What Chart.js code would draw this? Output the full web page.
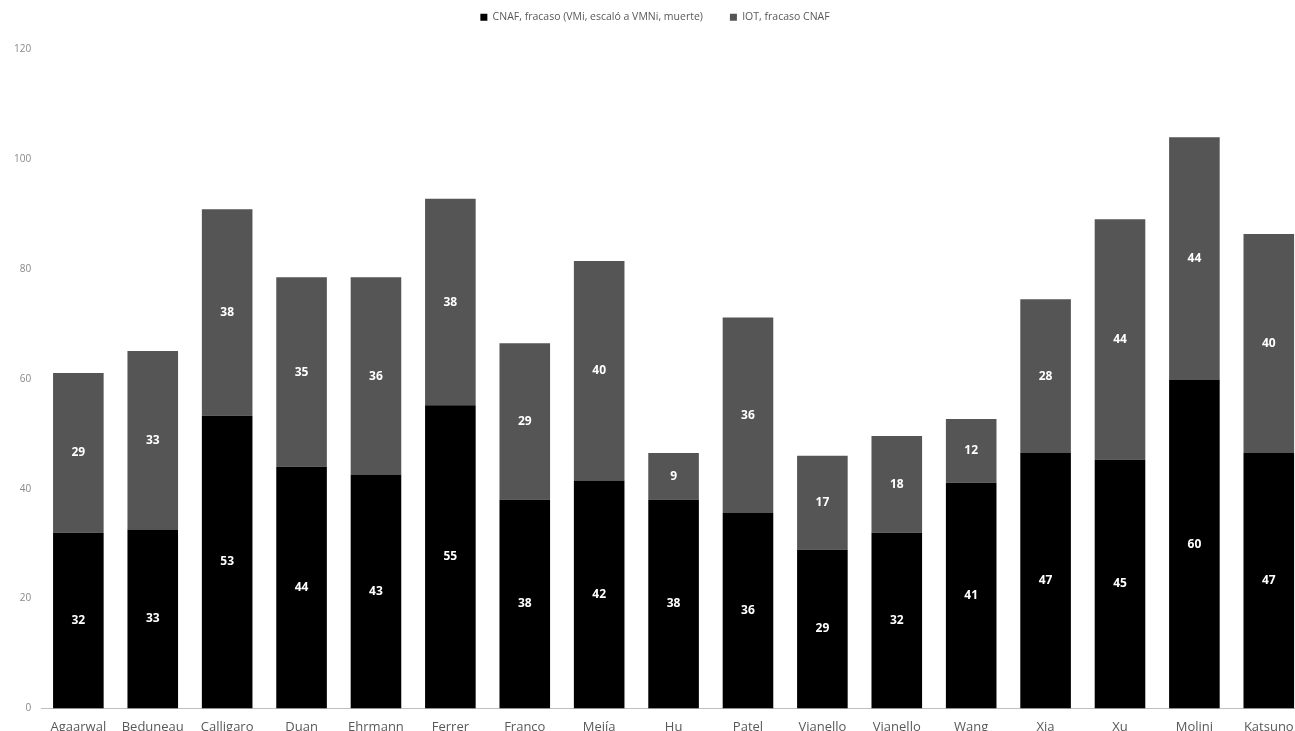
<!DOCTYPE html>
<html>
<head>
<meta charset="utf-8">
<script src="https://cdn.jsdelivr.net/npm/chart.js@4"></script>
<style>
    html, body { margin: 0; padding: 0; background: #ffffff; overflow: hidden; }
    #wrap { position: absolute; left: 0; top: 0; width: 1306px; height: 731px; }
</style>
</head>
<body>
<div id="wrap"><canvas id="chart"></canvas></div>
<script>
// ---- data ----
const categories = [
    'Agaarwal', 'Beduneau', 'Calligaro', 'Duan', 'Ehrmann', 'Ferrer',
    'Franco', 'Mejía', 'Hu', 'Patel', 'Vianello', 'Vianello', 'Wang',
    'Xia', 'Xu', 'Molini', 'Katsuno'
];

const cnafFailure = [
    32.0, 32.6, 53.3, 44.0, 42.5, 55.2,
    38.0, 41.5, 38.0, 35.6, 28.9, 32.0, 41.1,
    46.5, 45.3, 59.8, 46.5
];

const iotFailure = [
    29.1, 32.5, 37.6, 34.5, 36.0, 37.6,
    28.5, 40.0, 8.5, 35.6, 17.1, 17.6, 11.6,
    28.0, 43.8, 44.2, 39.9
];

const seriesNames = [
    'CNAF, fracaso (VMi, escaló a VMNi, muerte)',
    'IOT, fracaso CNAF'
];

const yTicks = [0, 20, 40, 60, 80, 100, 120];

/* =========================
   VALUE LABELS IN BARS
========================= */

const barLabels = {
    id: 'barLabels',
    afterDatasetsDraw(chart) {
        const ctx = chart.ctx;
        ctx.save();
        ctx.fillStyle = '#ffffff';
        ctx.font = 'bold 12px "Open Sans", sans-serif';
        ctx.textAlign = 'center';
        ctx.textBaseline = 'middle';
        chart.data.datasets.forEach((ds, i) => {
            chart.getDatasetMeta(i).data.forEach((bar, j) => {
                const mid = (bar.y + bar.base) / 2;
                ctx.fillText(String(Math.round(ds.data[j])), bar.x, mid);
            });
        });
        ctx.restore();
    }
};

/* =========================
   SPACE UNDER THE LEGEND
========================= */

const legendGap = {
    id: 'legendGap',
    beforeInit(chart) {
        const fit = chart.legend.fit;
        chart.legend.fit = function () {
            fit.bind(chart.legend)();
            this.height += 17;
        };
    }
};

const ctx = document.getElementById('chart').getContext('2d');

new Chart(ctx, {
    type: 'bar',
    data: {
        labels: categories,
        datasets: [
            {
                label: seriesNames[0],
                data: cnafFailure,
                backgroundColor: '#000000'
            },
            {
                label: seriesNames[1],
                data: iotFailure,
                backgroundColor: '#555555'
            }
        ]
    },
    options: {
        responsive: true,
        maintainAspectRatio: false,
        animation: false,
        layout: {
            padding: { left: 4, right: 0, top: -15, bottom: -15 }
        },
        datasets: {
            bar: {
                categoryPercentage: 0.68,
                barPercentage: 1.0
            }
        },
        plugins: {
            legend: {
                position: 'top',
                labels: {
                    color: '#595959',
                    boxWidth: 7,
                    boxHeight: 7,
                    padding: 27,
                    font: { size: 10.5, family: '"Open Sans", sans-serif' }
                }
            },
            tooltip: { enabled: false }
        },
        scales: {
            x: {
                stacked: true,
                grid: { display: false, drawTicks: false },
                border: { color: '#bfbfbf' },
                ticks: {
                    color: '#595959',
                    padding: 11,
                    maxRotation: 0,
                    autoSkip: false,
                    font: { size: 13, family: '"Open Sans", sans-serif' }
                }
            },
            y: {
                stacked: true,
                min: 0,
                max: 120,
                afterBuildTicks(axis) {
                    axis.ticks = yTicks.map(v => ({ value: v }));
                },
                grid: { display: false, drawTicks: false },
                border: { display: false },
                ticks: {
                    color: '#888888',
                    padding: 10,
                    font: { size: 10, family: '"Open Sans", sans-serif' }
                }
            }
        }
    },
    plugins: [barLabels, legendGap]
});
</script>
</body>
</html>
